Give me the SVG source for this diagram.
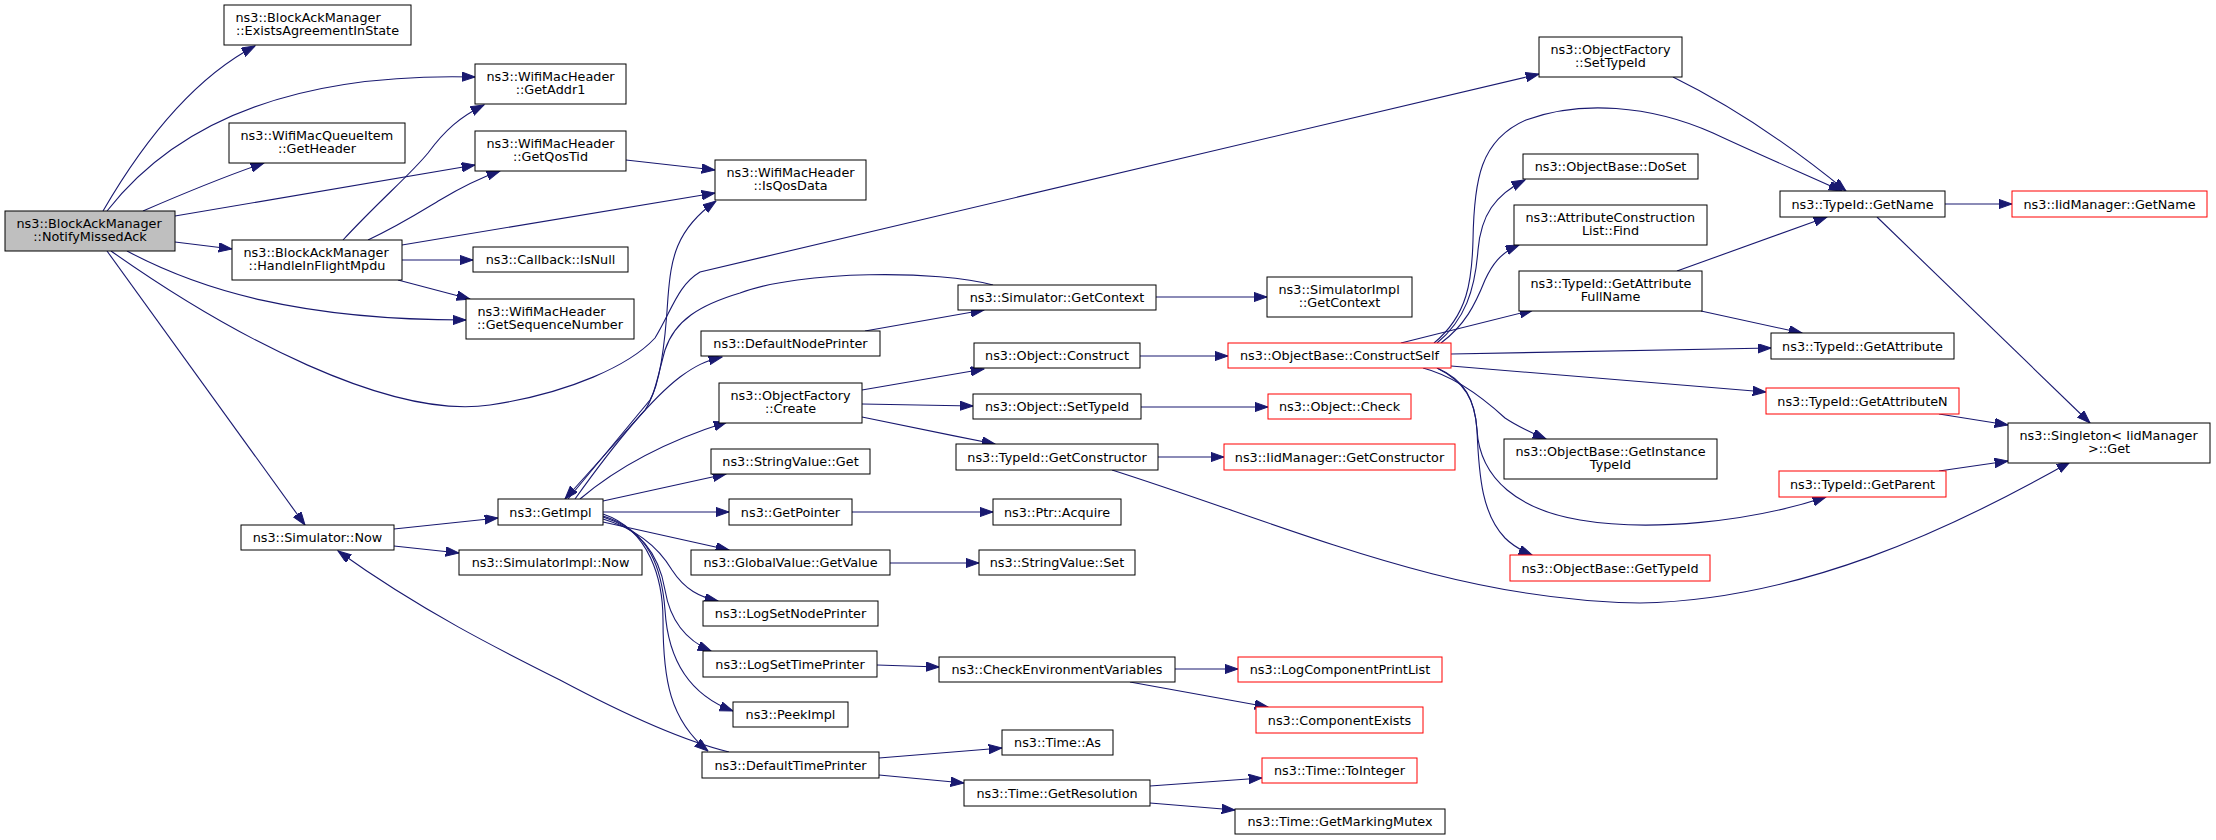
<svg xmlns="http://www.w3.org/2000/svg" width="2216" height="840" viewBox="0 0 2216 840">
<style>
.n rect{fill:#fff;stroke:#000;stroke-width:1}
.n.red rect{stroke:#f00}
.n.root rect{fill:#bfbfbf}
text{font-family:"DejaVu Sans","Liberation Sans",sans-serif;font-size:12.8px;fill:#000}
.c{text-anchor:middle}
.e path{fill:none;stroke:#191970;stroke-width:1.1;marker-end:url(#ah)}
</style>
<defs>
<marker id="ah" markerWidth="14" markerHeight="10" refX="13.3" refY="4.7" orient="auto" markerUnits="userSpaceOnUse">
<path d="M0,0 L13.3,4.7 L0,9.4 z" fill="#191970" stroke="#191970" stroke-width="1"/>
</marker>
</defs>
<rect x="0" y="0" width="2216" height="840" fill="#fff"/>
<g id="connectors" class="e">
<path d="M103,211 C150,130 200,75 255,46"/>
<path d="M107,211 C170,130 280,72 475,77"/>
<path d="M143,211 C180,195 220,178 264,163"/>
<path d="M175,216 L475,165"/>
<path d="M175,242 L232,249"/>
<path d="M127,251 C200,290 300,320 466,320"/>
<path d="M107,251 L305,525"/>
<path d="M111,251 C230,335 390,420 490,405 C570,393 630,365 655,338 C672,310 678,285 700,272 L1539,74"/>
<path d="M343,240 C380,200 410,175 428,153 C445,130 460,117 484,105"/>
<path d="M368,240 C400,225 420,212 440,200 C460,188 480,178 500,171"/>
<path d="M402,245 L715,193"/>
<path d="M402,260 L473,260"/>
<path d="M398,280 L470,299"/>
<path d="M626,160 L715,170"/>
<path d="M394,529 L498,518"/>
<path d="M394,546 L459,553"/>
<path d="M568,499 L650,400 C662,380 666,330 668,297 C671,260 675,230 716,201"/>
<path d="M993,285 C940,270 800,270 740,293 C700,305 675,320 665,350 C658,375 655,395 645,410 L565,499"/>
<path d="M575,499 C610,450 650,400 680,377 C695,366 705,361 722,357"/>
<path d="M580,499 C620,465 670,440 727,422"/>
<path d="M603,501 L726,474"/>
<path d="M603,512 L729,512"/>
<path d="M603,522 L729,550"/>
<path d="M603,519 C640,530 660,550 672,570 C685,590 700,597 718,601"/>
<path d="M603,517 C645,530 660,560 665,590 C670,620 685,640 711,651"/>
<path d="M603,516 C650,530 662,570 665,610 C668,660 690,695 733,711"/>
<path d="M603,514 C650,530 663,580 663,620 C663,680 670,720 708,751"/>
<path d="M729,752 C680,740 620,712 560,680 C500,650 420,610 338,551"/>
<path d="M865,331 L984,310"/>
<path d="M1156,297 L1267,297"/>
<path d="M862,390 L984,369"/>
<path d="M862,404 L973,406"/>
<path d="M862,417 C900,425 950,435 995,444"/>
<path d="M1140,356 L1228,356"/>
<path d="M1141,407 L1268,407"/>
<path d="M1158,457 L1224,457"/>
<path d="M1112,470 C1300,530 1450,600 1640,603 C1800,600 1950,530 2070,462"/>
<path d="M890,563 L979,563"/>
<path d="M852,512 L993,512"/>
<path d="M877,665 L939,667"/>
<path d="M1175,669 L1238,669"/>
<path d="M1130,682 L1268,707"/>
<path d="M879,758 L1002,748"/>
<path d="M879,775 L964,783"/>
<path d="M1150,786 L1262,778"/>
<path d="M1150,803 L1235,810"/>
<path d="M1434,343 C1468,315 1472,280 1473,240 C1474,180 1480,140 1526,120 C1580,100 1650,105 1713,133 C1760,155 1800,172 1842,191"/>
<path d="M1437,343 C1465,320 1475,290 1478,250 C1481,215 1495,195 1525,180"/>
<path d="M1441,343 C1465,325 1475,305 1485,280 C1492,265 1500,253 1519,245"/>
<path d="M1401,343 L1533,310"/>
<path d="M1451,354 L1771,348"/>
<path d="M1451,366 L1766,392"/>
<path d="M1423,368 C1450,375 1480,395 1505,418 C1520,428 1532,433 1546,439"/>
<path d="M1437,368 C1465,380 1475,400 1477,430 C1480,480 1520,510 1580,520 C1650,532 1750,522 1826,497"/>
<path d="M1437,368 C1465,382 1475,400 1477,430 C1479,480 1483,515 1505,538 C1512,545 1520,550 1532,555"/>
<path d="M1677,271 L1827,217"/>
<path d="M1701,311 L1802,333"/>
<path d="M1673,77 C1730,105 1790,145 1846,191"/>
<path d="M1945,204 L2012,204"/>
<path d="M1877,217 L2090,423"/>
<path d="M1939,414 L2008,425"/>
<path d="M1939,471 L2008,461"/>
</g>
<g id="root" class="n root"><rect x="5" y="211" width="170" height="40"/><text x="16.5" y="228">ns3::BlockAckManager</text><text class="c" x="90" y="241">::NotifyMissedAck</text></g>
<g id="exists" class="n"><rect x="224" y="5" width="187" height="40"/><text x="235.5" y="22">ns3::BlockAckManager</text><text class="c" x="317.5" y="35">::ExistsAgreementInState</text></g>
<g id="addr1" class="n"><rect x="475" y="64" width="151" height="40"/><text x="486.5" y="81">ns3::WifiMacHeader</text><text class="c" x="550.5" y="94">::GetAddr1</text></g>
<g id="qhdr" class="n"><rect x="229" y="123" width="176" height="40"/><text x="240.5" y="140">ns3::WifiMacQueueItem</text><text class="c" x="317" y="153">::GetHeader</text></g>
<g id="qostid" class="n"><rect x="475" y="131" width="151" height="40"/><text x="486.5" y="148">ns3::WifiMacHeader</text><text class="c" x="550.5" y="161">::GetQosTid</text></g>
<g id="inflight" class="n"><rect x="232" y="240" width="170" height="40"/><text x="243.5" y="257">ns3::BlockAckManager</text><text class="c" x="317" y="270">::HandleInFlightMpdu</text></g>
<g id="isnull" class="n"><rect x="473" y="247" width="155" height="25"/><text class="c" x="550.5" y="264">ns3::Callback::IsNull</text></g>
<g id="seqnum" class="n"><rect x="466" y="299" width="168" height="40"/><text x="477.5" y="316">ns3::WifiMacHeader</text><text class="c" x="550" y="329">::GetSequenceNumber</text></g>
<g id="simnow" class="n"><rect x="241" y="525" width="153" height="25"/><text class="c" x="317.5" y="542">ns3::Simulator::Now</text></g>
<g id="getimpl" class="n"><rect x="498" y="499" width="105" height="26"/><text class="c" x="550.5" y="516.5">ns3::GetImpl</text></g>
<g id="simimplnow" class="n"><rect x="459" y="550" width="183" height="25"/><text class="c" x="550.5" y="567">ns3::SimulatorImpl::Now</text></g>
<g id="isqos" class="n"><rect x="715" y="160" width="151" height="40"/><text x="726.5" y="177">ns3::WifiMacHeader</text><text class="c" x="790.5" y="190">::IsQosData</text></g>
<g id="simctx" class="n"><rect x="958" y="285" width="198" height="25"/><text class="c" x="1057" y="302">ns3::Simulator::GetContext</text></g>
<g id="nodeprinter" class="n"><rect x="701" y="331" width="179" height="25"/><text class="c" x="790.5" y="348">ns3::DefaultNodePrinter</text></g>
<g id="construct" class="n"><rect x="974" y="343" width="166" height="25"/><text class="c" x="1057" y="360">ns3::Object::Construct</text></g>
<g id="create" class="n"><rect x="719" y="383" width="143" height="40"/><text x="730.5" y="400">ns3::ObjectFactory</text><text class="c" x="790.5" y="413">::Create</text></g>
<g id="objsettid" class="n"><rect x="973" y="394" width="168" height="25"/><text class="c" x="1057" y="411">ns3::Object::SetTypeId</text></g>
<g id="getctor" class="n"><rect x="956" y="444" width="202" height="26"/><text class="c" x="1057" y="461.5">ns3::TypeId::GetConstructor</text></g>
<g id="svget" class="n"><rect x="711" y="449" width="159" height="25"/><text class="c" x="790.5" y="466">ns3::StringValue::Get</text></g>
<g id="getptr" class="n"><rect x="729" y="499" width="123" height="26"/><text class="c" x="790.5" y="516.5">ns3::GetPointer</text></g>
<g id="acquire" class="n"><rect x="993" y="499" width="128" height="26"/><text class="c" x="1057" y="516.5">ns3::Ptr::Acquire</text></g>
<g id="gvget" class="n"><rect x="691" y="550" width="199" height="25"/><text class="c" x="790.5" y="567">ns3::GlobalValue::GetValue</text></g>
<g id="svset" class="n"><rect x="979" y="550" width="156" height="25"/><text class="c" x="1057" y="567">ns3::StringValue::Set</text></g>
<g id="lsnp" class="n"><rect x="703" y="601" width="175" height="25"/><text class="c" x="790.5" y="618">ns3::LogSetNodePrinter</text></g>
<g id="lstp" class="n"><rect x="703" y="651" width="174" height="26"/><text class="c" x="790" y="668.5">ns3::LogSetTimePrinter</text></g>
<g id="checkenv" class="n"><rect x="939" y="657" width="236" height="25"/><text class="c" x="1057" y="674">ns3::CheckEnvironmentVariables</text></g>
<g id="peek" class="n"><rect x="733" y="702" width="115" height="25"/><text class="c" x="790.5" y="719">ns3::PeekImpl</text></g>
<g id="timeas" class="n"><rect x="1002" y="730" width="111" height="25"/><text class="c" x="1057.5" y="747">ns3::Time::As</text></g>
<g id="dtp" class="n"><rect x="702" y="752" width="177" height="26"/><text class="c" x="790.5" y="769.5">ns3::DefaultTimePrinter</text></g>
<g id="getres" class="n"><rect x="964" y="780" width="186" height="26"/><text class="c" x="1057" y="797.5">ns3::Time::GetResolution</text></g>
<g id="ofsettid" class="n"><rect x="1539" y="37" width="143" height="40"/><text x="1550.5" y="54">ns3::ObjectFactory</text><text class="c" x="1610.5" y="67">::SetTypeId</text></g>
<g id="simimplctx" class="n"><rect x="1267" y="277" width="145" height="40"/><text x="1278.5" y="294">ns3::SimulatorImpl</text><text class="c" x="1339.5" y="307">::GetContext</text></g>
<g id="cself" class="n red"><rect x="1228" y="343" width="223" height="25"/><text class="c" x="1339.5" y="360">ns3::ObjectBase::ConstructSelf</text></g>
<g id="check" class="n red"><rect x="1268" y="394" width="143" height="25"/><text class="c" x="1339.5" y="411">ns3::Object::Check</text></g>
<g id="iidctor" class="n red"><rect x="1224" y="444" width="231" height="26"/><text class="c" x="1339.5" y="461.5">ns3::IidManager::GetConstructor</text></g>
<g id="lcpl" class="n red"><rect x="1238" y="657" width="204" height="25"/><text class="c" x="1340" y="674">ns3::LogComponentPrintList</text></g>
<g id="cexists" class="n red"><rect x="1256" y="707" width="167" height="26"/><text class="c" x="1339.5" y="724.5">ns3::ComponentExists</text></g>
<g id="toint" class="n red"><rect x="1262" y="758" width="155" height="25"/><text class="c" x="1339.5" y="775">ns3::Time::ToInteger</text></g>
<g id="mutex" class="n"><rect x="1235" y="809" width="210" height="25"/><text class="c" x="1340" y="826">ns3::Time::GetMarkingMutex</text></g>
<g id="doset" class="n"><rect x="1523" y="154" width="175" height="25"/><text class="c" x="1610.5" y="171">ns3::ObjectBase::DoSet</text></g>
<g id="find" class="n"><rect x="1514" y="205" width="193" height="40"/><text x="1525.5" y="222">ns3::AttributeConstruction</text><text class="c" x="1610.5" y="235">List::Find</text></g>
<g id="fullname" class="n"><rect x="1519" y="271" width="183" height="40"/><text x="1530.5" y="288">ns3::TypeId::GetAttribute</text><text class="c" x="1610.5" y="301">FullName</text></g>
<g id="insttid" class="n"><rect x="1504" y="439" width="213" height="40"/><text x="1515.5" y="456">ns3::ObjectBase::GetInstance</text><text class="c" x="1610.5" y="469">TypeId</text></g>
<g id="obgettid" class="n red"><rect x="1510" y="555" width="200" height="26"/><text class="c" x="1610" y="572.5">ns3::ObjectBase::GetTypeId</text></g>
<g id="getname" class="n"><rect x="1780" y="191" width="165" height="26"/><text class="c" x="1862.5" y="208.5">ns3::TypeId::GetName</text></g>
<g id="iidname" class="n red"><rect x="2012" y="191" width="195" height="26"/><text class="c" x="2109.5" y="208.5">ns3::IidManager::GetName</text></g>
<g id="getattr" class="n"><rect x="1771" y="333" width="183" height="26"/><text class="c" x="1862.5" y="350.5">ns3::TypeId::GetAttribute</text></g>
<g id="getattrn" class="n red"><rect x="1766" y="388" width="193" height="26"/><text class="c" x="1862.5" y="405.5">ns3::TypeId::GetAttributeN</text></g>
<g id="singleton" class="n"><rect x="2008" y="423" width="202" height="40"/><text x="2019.5" y="440">ns3::Singleton&lt; IidManager</text><text class="c" x="2109" y="453">&gt;::Get</text></g>
<g id="getparent" class="n red"><rect x="1779" y="471" width="167" height="26"/><text class="c" x="1862.5" y="488.5">ns3::TypeId::GetParent</text></g>
</svg>
